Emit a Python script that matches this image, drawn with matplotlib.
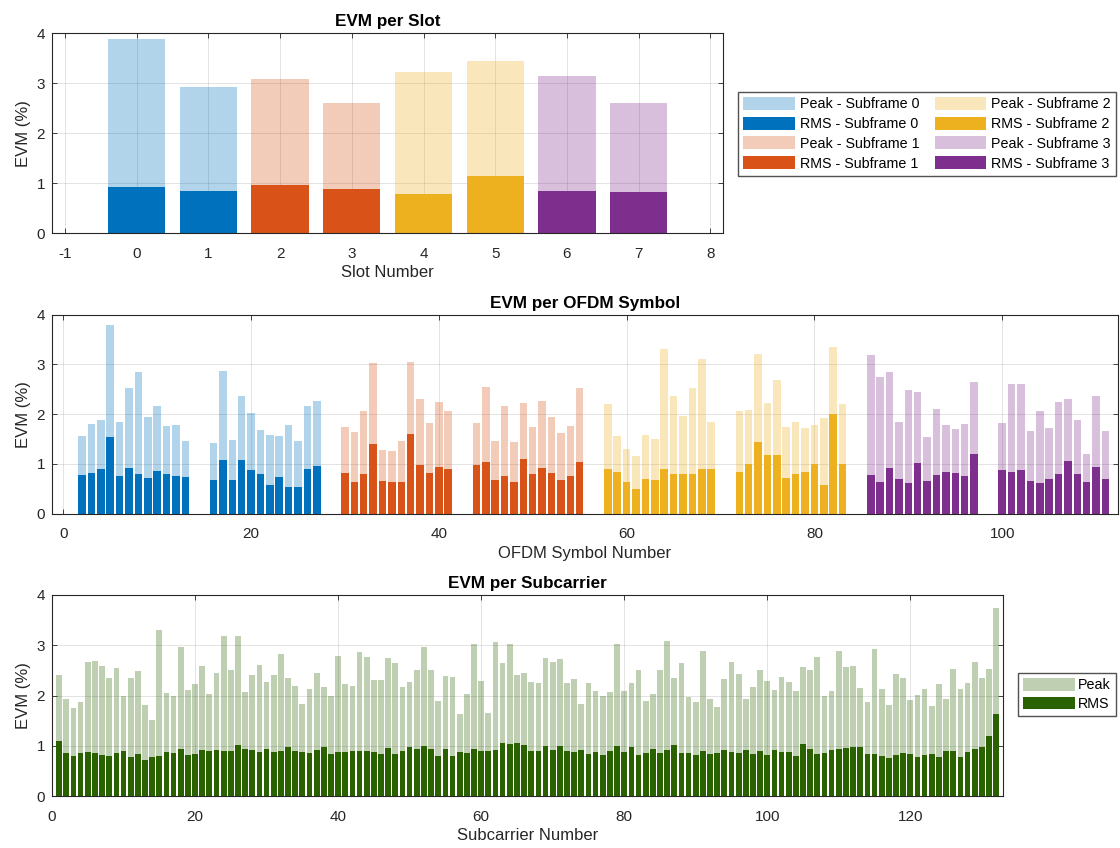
import numpy as np
import matplotlib
matplotlib.use('Agg')
import matplotlib.pyplot as plt

plt.rcParams['font.family'] = ['Liberation Sans', 'DejaVu Sans']
plt.rcParams['axes.unicode_minus'] = False

# ---------------- data ----------------
subframe_colors = ['#0072BD', '#D95319', '#EDB120', '#7E2F8E']
subframe_labels = ['Subframe 0', 'Subframe 1', 'Subframe 2', 'Subframe 3']

slot_numbers = [0, 1, 2, 3, 4, 5, 6, 7]
slot_peak = [3.88, 2.92, 3.08, 2.61, 3.22, 3.45, 3.14, 2.61]
slot_rms = [0.92, 0.84, 0.97, 0.88, 0.79, 1.14, 0.85, 0.83]

symbols_per_slot = 14
first_data_symbol = 2

symbol_peak_slot0 = [1.55, 1.80, 1.89, 3.80, 1.84, 2.53, 2.84, 1.95, 2.16, 1.76, 1.78, 1.46]
symbol_peak_slot1 = [1.42, 2.87, 1.47, 2.36, 2.03, 1.68, 1.57, 1.55, 1.78, 1.46, 2.16, 2.27]
symbol_peak_slot2 = [1.74, 1.63, 2.07, 3.02, 1.28, 1.25, 1.46, 3.05, 2.30, 1.82, 2.25, 2.07]
symbol_peak_slot3 = [1.82, 2.55, 1.45, 2.16, 1.43, 2.23, 1.74, 2.26, 1.95, 1.61, 1.77, 2.53]
symbol_peak_slot4 = [2.20, 1.56, 1.30, 1.16, 1.57, 1.49, 3.31, 2.36, 1.96, 2.53, 3.11, 1.84]
symbol_peak_slot5 = [2.06, 2.09, 3.20, 2.22, 2.68, 1.74, 1.84, 1.72, 1.79, 1.93, 3.36, 2.21]
symbol_peak_slot6 = [3.18, 2.74, 2.84, 1.85, 2.49, 2.44, 1.53, 2.11, 1.79, 1.70, 1.80, 2.65]
symbol_peak_slot7 = [1.82, 2.61, 2.60, 1.66, 2.07, 1.72, 2.24, 2.30, 1.88, 1.20, 2.37, 1.66]

symbol_rms_slot0 = [0.77, 0.82, 0.89, 1.53, 0.76, 0.92, 0.80, 0.72, 0.86, 0.80, 0.76, 0.73]
symbol_rms_slot1 = [0.67, 1.07, 0.67, 1.08, 0.87, 0.79, 0.57, 0.73, 0.53, 0.53, 0.89, 0.96]
symbol_rms_slot2 = [0.82, 0.64, 0.80, 1.40, 0.66, 0.63, 0.63, 1.59, 0.97, 0.82, 0.93, 0.89]
symbol_rms_slot3 = [0.97, 1.03, 0.68, 0.76, 0.63, 1.10, 0.79, 0.91, 0.82, 0.68, 0.76, 1.03]
symbol_rms_slot4 = [0.89, 0.83, 0.64, 0.49, 0.69, 0.68, 0.89, 0.80, 0.80, 0.80, 0.90, 0.89]
symbol_rms_slot5 = [0.83, 0.99, 1.43, 1.17, 1.17, 0.72, 0.79, 0.84, 0.99, 0.58, 2.01, 0.99]
symbol_rms_slot6 = [0.77, 0.64, 0.91, 0.70, 0.62, 1.02, 0.65, 0.77, 0.83, 0.82, 0.76, 1.19]
symbol_rms_slot7 = [0.88, 0.84, 0.88, 0.66, 0.61, 0.70, 0.80, 1.06, 0.80, 0.64, 0.93, 0.70]

symbol_peak = [symbol_peak_slot0, symbol_peak_slot1, symbol_peak_slot2, symbol_peak_slot3,
               symbol_peak_slot4, symbol_peak_slot5, symbol_peak_slot6, symbol_peak_slot7]
symbol_rms = [symbol_rms_slot0, symbol_rms_slot1, symbol_rms_slot2, symbol_rms_slot3,
              symbol_rms_slot4, symbol_rms_slot5, symbol_rms_slot6, symbol_rms_slot7]

subcarrier_peak = [
    2.41, 1.94, 1.75, 1.87, 2.66, 2.68, 2.58, 2.35, 2.55, 2.00,
    2.35, 2.48, 1.82, 1.52, 3.30, 2.04, 2.00, 2.97, 2.11, 2.22,
    2.59, 2.02, 2.44, 3.18, 2.50, 3.18, 2.06, 2.40, 2.60, 2.27,
    2.41, 2.82, 2.34, 2.19, 1.83, 2.12, 2.44, 2.16, 2.00, 2.78,
    2.23, 2.18, 2.86, 2.77, 2.30, 2.30, 2.75, 2.65, 2.17, 2.26,
    2.50, 2.97, 2.50, 1.89, 2.39, 2.37, 1.64, 2.03, 3.03, 2.28,
    1.66, 3.07, 2.64, 3.02, 2.40, 2.44, 2.26, 2.24, 2.74, 2.66,
    2.72, 2.25, 2.32, 1.83, 2.24, 2.09, 1.99, 2.07, 3.02, 2.08,
    2.25, 2.51, 1.90, 2.02, 2.50, 3.08, 2.34, 2.65, 1.97, 1.87,
    2.89, 1.94, 1.78, 2.32, 2.66, 2.42, 1.93, 2.17, 2.50, 2.29,
    2.10, 2.37, 2.26, 2.09, 2.57, 2.50, 2.77, 2.00, 2.08, 2.89,
    2.56, 2.59, 2.14, 1.87, 2.93, 2.13, 1.82, 2.42, 2.34, 1.91,
    2.01, 2.13, 1.80, 2.22, 1.93, 2.52, 2.13, 2.25, 2.66, 2.34,
    2.52, 3.74]
subcarrier_rms = [
    1.09, 0.85, 0.80, 0.85, 0.88, 0.86, 0.82, 0.79, 0.85, 0.89,
    0.78, 0.84, 0.72, 0.77, 0.79, 0.87, 0.86, 0.94, 0.81, 0.83,
    0.91, 0.89, 0.91, 0.89, 0.89, 1.02, 0.93, 0.91, 0.88, 0.94,
    0.87, 0.89, 0.97, 0.89, 0.87, 0.86, 0.92, 0.98, 0.84, 0.88,
    0.87, 0.89, 0.89, 0.89, 0.88, 0.84, 0.96, 0.83, 0.89, 0.97,
    0.93, 1.00, 0.93, 0.80, 0.93, 0.80, 0.87, 0.86, 0.93, 0.89,
    0.89, 0.92, 1.05, 1.03, 1.05, 1.02, 0.90, 0.90, 0.99, 0.92,
    1.00, 0.90, 0.87, 0.91, 0.84, 0.87, 0.82, 0.89, 1.00, 0.87,
    0.97, 0.81, 0.85, 0.94, 0.86, 0.92, 1.02, 0.85, 0.86, 0.81,
    0.89, 0.83, 0.85, 0.91, 0.88, 0.85, 0.91, 0.83, 0.89, 0.82,
    0.91, 0.87, 0.87, 0.79, 1.04, 0.94, 0.84, 0.85, 0.91, 0.93,
    0.95, 0.97, 0.98, 0.83, 0.83, 0.79, 0.76, 0.82, 0.85, 0.83,
    0.78, 0.82, 0.83, 0.77, 0.89, 0.89, 0.77, 0.87, 0.93, 0.97,
    1.20, 1.64]
subcarrier_color = '#2B6200'

# ---------------- figure ----------------
W, H = 1120, 848
fig = plt.figure(figsize=(W / 100, H / 100), dpi=100)

AXC = '#262626'
TICK_FS = 11
LABEL_FS = 12
TITLE_FS = 12.3
LEG_FS = 10.3
PEAK_ALPHA = 0.3


def px_axes(l, r, t, b):
    return fig.add_axes([l / W, 1 - b / H, (r - l) / W, (b - t) / H])


def style(ax, xticks, xlim, title, xlabel):
    ax.set_xlim(*xlim)
    ax.set_ylim(0, 4)
    ax.set_xticks(xticks)
    ax.set_yticks([0, 1, 2, 3, 4])
    ax.set_axisbelow(True)
    ax.grid(True, color=(0.15, 0.15, 0.15), alpha=0.15, linewidth=0.6)
    ax.tick_params(direction='in', top=True, right=True, length=3.5, width=0.6,
                   colors=AXC, labelsize=TICK_FS)
    ax.tick_params(axis='x', pad=10)
    ax.tick_params(axis='y', pad=5)
    for s in ax.spines.values():
        s.set_color(AXC)
        s.set_linewidth(0.8)
    ax.set_title(title, fontsize=TITLE_FS, fontweight='bold', color='black', pad=5)
    ax.set_xlabel(xlabel, fontsize=LABEL_FS, color=AXC, labelpad=3)
    ax.set_ylabel('EVM (%)', fontsize=LABEL_FS, color=AXC, labelpad=4)


# ---- EVM per Slot ----
ax1 = px_axes(52, 723.3, 33.3, 233.3)
handles = []
for k in range(4):
    idx = [2 * k, 2 * k + 1]
    xs = [slot_numbers[i] for i in idx]
    hp = ax1.bar(xs, [slot_peak[i] for i in idx], width=0.8,
                 color=subframe_colors[k], alpha=PEAK_ALPHA, edgecolor='none',
                 label='Peak - ' + subframe_labels[k])
    hr = ax1.bar(xs, [slot_rms[i] for i in idx], width=0.8,
                 color=subframe_colors[k], edgecolor='none',
                 label='RMS - ' + subframe_labels[k])
    handles += [hp, hr]
style(ax1, list(range(-1, 9)), (-1.18, 8.18), 'EVM per Slot', 'Slot Number')

fig.legend(handles=handles, ncol=2, loc='upper left',
           bbox_to_anchor=(738 / W, 1 - 92 / H), bbox_transform=fig.transFigure,
           borderaxespad=0, fontsize=LEG_FS, frameon=True, fancybox=False,
           edgecolor=AXC, handlelength=3.6, handleheight=1.0, handletextpad=0.35,
           labelspacing=0.38, columnspacing=1.1, borderpad=0.35)

# ---- EVM per OFDM Symbol ----
ax2 = px_axes(52, 1117.7, 314.7, 513.5)
for slot in range(len(symbol_peak)):
    sym = [slot * symbols_per_slot + first_data_symbol + i for i in range(len(symbol_peak[slot]))]
    col = subframe_colors[slot // 2]
    ax2.bar(sym, symbol_peak[slot], width=0.8, color=col, alpha=PEAK_ALPHA, edgecolor='none')
    ax2.bar(sym, symbol_rms[slot], width=0.8, color=col, edgecolor='none')
style(ax2, [0, 20, 40, 60, 80, 100], (-1.2, 112.3), 'EVM per OFDM Symbol', 'OFDM Symbol Number')

# ---- EVM per Subcarrier ----
ax3 = px_axes(52, 1003.3, 595, 796)
sc = np.arange(1, len(subcarrier_peak) + 1)
hp = ax3.bar(sc, subcarrier_peak, width=0.8, color=subcarrier_color, alpha=PEAK_ALPHA,
             edgecolor='none', label='Peak')
hr = ax3.bar(sc, subcarrier_rms, width=0.8, color=subcarrier_color, edgecolor='none',
             label='RMS')
style(ax3, [0, 20, 40, 60, 80, 100, 120], (0, 133), 'EVM per Subcarrier', 'Subcarrier Number')

fig.legend(handles=[hp, hr], loc='upper left',
           bbox_to_anchor=(1018 / W, 1 - 673 / H), bbox_transform=fig.transFigure,
           borderaxespad=0, fontsize=LEG_FS, frameon=True, fancybox=False,
           edgecolor=AXC, handlelength=3.6, handleheight=1.0, handletextpad=0.25,
           labelspacing=0.3, borderpad=0.35)

fig.savefig('out.png', dpi=100)
